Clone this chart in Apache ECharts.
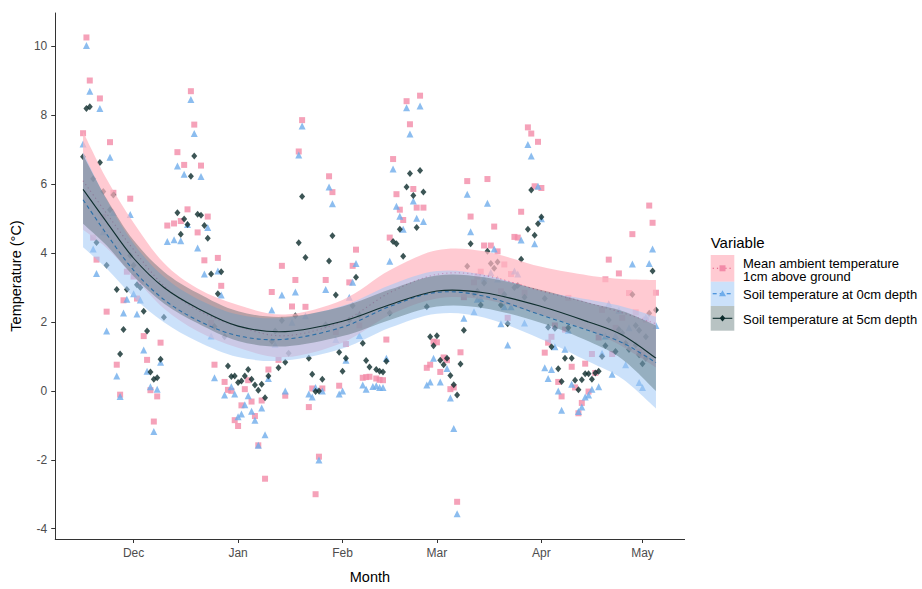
<!DOCTYPE html>
<html><head><meta charset="utf-8">
<script src="https://cdn.jsdelivr.net/npm/echarts@6/dist/echarts.min.js"></script>
<style>html,body{margin:0;padding:0;background:#fff}#chart{width:922px;height:589px}</style>
</head><body><div id="chart"></div>
<script>
// ---------- tick labels ----------
const monthTicks = ['2017-12-01','2018-01-01','2018-02-01','2018-03-01','2018-04-01','2018-05-01'];
const monthLabels = ['Dec','Jan','Feb','Mar','Apr','May'];
const yTicks = [-4,-2,0,2,4,6,8,10];

// ---------- observed points (date, °C) ----------
const ambient = [
['2017-11-16',7.48],['2017-11-17',10.26],['2017-11-18',9.01],['2017-11-19',4.45],['2017-11-20',3.81],['2017-11-21',8.49],['2017-11-22',5.05],['2017-11-23',2.30],['2017-11-24',7.22],['2017-11-25',5.75],['2017-11-26',0.76],['2017-11-27',-0.11],['2017-11-28',2.63],['2017-11-29',3.46],['2017-11-30',5.58],
['2017-12-01',3.32],['2017-12-02',2.68],['2017-12-03',3.15],['2017-12-04',1.59],['2017-12-05',0.90],['2017-12-06',0.02],['2017-12-07',-0.89],['2017-12-08',-0.16],['2017-12-09',1.40],['2017-12-11',4.80],['2017-12-13',4.86],['2017-12-14',6.93],['2017-12-15',4.93],['2017-12-16',6.56],['2017-12-17',5.27],['2017-12-18',8.70],['2017-12-19',7.73],['2017-12-20',4.60],['2017-12-21',6.54],['2017-12-22',3.79],['2017-12-23',5.06],['2017-12-24',1.97],['2017-12-25',0.76],['2017-12-26',3.86],['2017-12-27',3.05],['2017-12-28',0.26],['2017-12-29',0.03],['2017-12-30',0.00],['2017-12-31',-0.85],
['2018-01-01',-1.02],['2018-01-02',-0.42],['2018-01-03',0.05],['2018-01-04',0.31],['2018-01-05',-0.31],['2018-01-06',-0.73],['2018-01-07',-1.58],['2018-01-08',-0.28],['2018-01-09',-2.55],['2018-01-10',0.62],['2018-01-11',2.87],['2018-01-13',0.90],['2018-01-14',3.63],['2018-01-15',-0.14],['2018-01-17',2.45],['2018-01-18',3.22],['2018-01-19',6.95],['2018-01-20',7.86],['2018-01-21',2.44],['2018-01-22',-0.47],['2018-01-23',0.07],['2018-01-24',-3.00],['2018-01-25',-1.91],['2018-01-26',0.07],['2018-01-27',3.22],['2018-01-28',6.23],['2018-01-29',5.77],['2018-01-30',1.71],['2018-01-31',0.15],
['2018-02-02',1.36],['2018-02-03',3.15],['2018-02-04',3.63],['2018-02-05',4.10],['2018-02-06',1.90],['2018-02-07',0.38],['2018-02-08',0.40],['2018-02-09',0.41],['2018-02-11',0.36],['2018-02-12',0.32],['2018-02-13',0.31],['2018-02-14',1.49],['2018-02-15',4.45],['2018-02-16',6.73],['2018-02-17',5.71],['2018-02-18',5.26],['2018-02-19',4.96],['2018-02-20',8.41],['2018-02-21',7.74],['2018-02-22',5.86],['2018-02-23',5.32],['2018-02-24',8.57],['2018-02-25',5.32],['2018-02-26',0.67],['2018-02-27',0.76],['2018-02-28',1.43],
['2018-03-01',1.41],['2018-03-02',0.55],['2018-03-03',0.97],['2018-03-04',0.89],['2018-03-05',0.05],['2018-03-06',0.10],['2018-03-07',-3.22],['2018-03-08',1.12],['2018-03-09',2.72],['2018-03-10',6.09],['2018-03-11',5.06],['2018-03-12',3.15],['2018-03-13',3.32],['2018-03-14',3.46],['2018-03-15',4.22],['2018-03-16',6.15],['2018-03-17',4.22],['2018-03-18',4.77],['2018-03-19',4.05],['2018-03-20',2.89],['2018-03-21',3.67],['2018-03-22',2.12],['2018-03-23',3.39],['2018-03-24',4.47],['2018-03-25',4.45],['2018-03-26',5.20],['2018-03-27',2.85],['2018-03-28',7.65],['2018-03-29',7.47],['2018-03-30',5.94],['2018-03-31',7.23],
['2018-04-01',5.89],['2018-04-02',1.11],['2018-04-03',1.40],['2018-04-04',1.57],['2018-04-05',1.90],['2018-04-06',0.26],['2018-04-07',-0.16],['2018-04-08',1.78],['2018-04-09',2.70],['2018-04-10',0.70],['2018-04-11',0.10],['2018-04-12',-0.65],['2018-04-13',-0.35],['2018-04-14',0.79],['2018-04-15',-0.02],['2018-04-16',1.07],['2018-04-17',0.52],['2018-04-18',1.55],['2018-04-19',2.35],['2018-04-20',3.24],['2018-04-21',3.81],['2018-04-22',1.07],['2018-04-23',1.83],['2018-04-24',3.41],['2018-04-25',2.12],['2018-04-27',2.84],['2018-04-28',4.55],['2018-04-29',2.28],['2018-04-30',1.14],['2018-05-01',1.05],['2018-05-02',2.07],['2018-05-03',5.38],['2018-05-04',4.88],['2018-05-05',2.85]
];
const soil0 = [
['2017-11-16',7.17],['2017-11-17',10.03],['2017-11-18',8.70],['2017-11-19',4.12],['2017-11-20',3.41],['2017-11-21',8.20],['2017-11-22',4.62],['2017-11-23',1.74],['2017-11-24',6.78],['2017-11-25',5.18],['2017-11-26',0.43],['2017-11-27',-0.16],['2017-11-28',2.26],['2017-11-29',2.66],['2017-11-30',5.12],
['2017-12-01',2.82],['2017-12-02',2.23],['2017-12-03',2.64],['2017-12-04',1.19],['2017-12-05',0.57],['2017-12-06',0.12],['2017-12-07',-1.18],['2017-12-08',0.05],['2017-12-09',0.83],['2017-12-11',4.34],['2017-12-13',4.39],['2017-12-14',6.53],['2017-12-15',4.36],['2017-12-16',6.29],['2017-12-17',4.83],['2017-12-18',8.46],['2017-12-19',7.47],['2017-12-20',4.15],['2017-12-21',6.22],['2017-12-22',3.39],['2017-12-23',4.74],['2017-12-24',1.59],['2017-12-25',0.38],['2017-12-26',3.48],['2017-12-27',2.78],['2017-12-28',-0.12],['2017-12-30',0.12],['2017-12-31',-0.09],
['2018-01-01',-0.75],['2018-01-02',-0.67],['2018-01-03',-0.40],['2018-01-04',-0.14],['2018-01-05',-0.59],['2018-01-06',-0.85],['2018-01-07',-1.58],['2018-01-08',-0.50],['2018-01-09',-1.27],['2018-01-10',0.36],['2018-01-11',2.35],['2018-01-12',1.35],['2018-01-14',2.78],['2018-01-15',0.00],['2018-01-17',1.99],['2018-01-18',2.87],['2018-01-19',6.85],['2018-01-20',7.69],['2018-01-21',2.18],['2018-01-22',-0.09],['2018-01-23',-0.18],['2018-01-24',0.10],['2018-01-25',-2.01],['2018-01-26',0.00],['2018-01-27',2.94],['2018-01-28',5.92],['2018-01-29',5.43],['2018-01-30',1.49],['2018-01-31',-0.09],
['2018-02-01',0.00],['2018-02-02',0.89],['2018-02-03',2.72],['2018-02-04',3.15],['2018-02-05',3.70],['2018-02-06',1.61],['2018-02-07',0.17],['2018-02-08',0.05],['2018-02-10',0.13],['2018-02-11',0.15],['2018-02-12',0.10],['2018-02-13',0.10],['2018-02-14',0.95],['2018-02-15',3.76],['2018-02-16',6.44],['2018-02-17',5.36],['2018-02-18',5.07],['2018-02-19',4.69],['2018-02-20',8.22],['2018-02-21',7.46],['2018-02-22',5.51],['2018-02-23',5.01],['2018-02-24',8.27],['2018-02-25',4.92],['2018-02-26',0.17],['2018-02-27',0.26],['2018-02-28',0.95],
['2018-03-02',0.26],['2018-03-04',0.65],['2018-03-05',-0.21],['2018-03-06',-1.09],['2018-03-07',-3.57],['2018-03-09',2.11],['2018-03-10',5.71],['2018-03-11',4.62],['2018-03-12',2.30],['2018-03-13',2.66],['2018-03-14',2.68],['2018-03-15',3.27],['2018-03-16',5.45],['2018-03-17',3.44],['2018-03-18',4.12],['2018-03-19',3.25],['2018-03-20',1.95],['2018-03-21',2.44],['2018-03-22',1.33],['2018-03-23',2.44],['2018-03-24',3.48],['2018-03-25',3.39],['2018-03-26',4.38],['2018-03-27',1.97],['2018-03-28',7.15],['2018-03-29',6.82],['2018-03-30',4.27],['2018-03-31',5.94],
['2018-04-01',5.00],['2018-04-02',0.67],['2018-04-03',0.36],['2018-04-04',0.62],['2018-04-05',1.28],['2018-04-06',0.00],['2018-04-07',-0.56],['2018-04-08',1.21],['2018-04-09',1.76],['2018-04-10',0.19],['2018-04-12',-0.60],['2018-04-13',-0.47],['2018-04-14',-0.18],['2018-04-15',-0.12],['2018-04-16',0.05],['2018-04-18',0.12],['2018-04-19',1.09],['2018-04-20',1.59],['2018-04-21',2.53],['2018-04-22',0.48],['2018-04-23',1.61],['2018-04-24',2.34],['2018-04-26',0.76],['2018-04-27',1.83],['2018-04-28',3.68],['2018-04-30',0.24],['2018-05-01',0.10],['2018-05-02',2.14],['2018-05-03',3.70],['2018-05-04',4.12],['2018-05-05',1.90]
];
const soil5 = [
['2017-11-16',6.80],['2017-11-17',8.20],['2017-11-18',8.25],['2017-11-19',6.16],['2017-11-20',4.31],['2017-11-21',6.63],['2017-11-22',5.79],['2017-11-23',3.65],['2017-11-24',5.26],['2017-11-25',5.69],['2017-11-26',2.94],['2017-11-27',1.07],['2017-11-28',1.78],['2017-11-29',2.94],['2017-11-30',3.93],
['2017-12-01',3.65],['2017-12-02',3.08],['2017-12-03',3.00],['2017-12-04',2.31],['2017-12-05',1.74],['2017-12-06',0.55],['2017-12-07',0.34],['2017-12-08',0.38],['2017-12-09',0.92],['2017-12-10',2.14],['2017-12-14',5.17],['2017-12-15',4.55],['2017-12-16',4.99],['2017-12-17',4.83],['2017-12-18',6.23],['2017-12-19',6.82],['2017-12-20',5.13],['2017-12-21',5.10],['2017-12-22',4.80],['2017-12-23',4.43],['2017-12-24',3.39],['2017-12-25',1.87],['2017-12-26',2.82],['2017-12-27',3.46],['2017-12-28',1.57],['2017-12-29',0.72],['2017-12-30',0.42],['2017-12-31',0.43],
['2018-01-01',0.24],['2018-01-02',0.29],['2018-01-03',0.43],['2018-01-04',0.62],['2018-01-05',0.34],['2018-01-06',0.17],['2018-01-07',0.02],['2018-01-08',0.19],['2018-01-09',-0.20],['2018-01-10',0.43],['2018-01-11',1.44],['2018-01-12',1.74],['2018-01-13',0.67],['2018-01-14',2.04],['2018-01-15',0.83],['2018-01-16',1.09],['2018-01-18',2.18],['2018-01-19',4.30],['2018-01-20',5.64],['2018-01-21',3.87],['2018-01-22',0.95],['2018-01-23',0.48],['2018-01-24',-0.02],['2018-01-25',0.00],['2018-01-26',0.34],['2018-01-27',1.92],['2018-01-28',3.77],['2018-01-29',4.50],['2018-01-30',2.78],['2018-01-31',1.12],
['2018-02-01',0.57],['2018-02-02',0.95],['2018-02-03',2.06],['2018-02-04',2.47],['2018-02-05',3.30],['2018-02-06',2.20],['2018-02-07',1.38],['2018-02-08',0.88],['2018-02-09',0.69],['2018-02-11',0.62],['2018-02-12',0.57],['2018-02-13',0.55],['2018-02-14',0.86],['2018-02-15',2.26],['2018-02-16',4.34],['2018-02-17',4.27],['2018-02-18',4.69],['2018-02-19',3.91],['2018-02-20',5.92],['2018-02-21',6.31],['2018-02-22',5.67],['2018-02-23',4.74],['2018-02-24',6.40],['2018-02-25',5.77],['2018-02-26',2.44],['2018-02-27',1.57],['2018-02-28',1.31],
['2018-03-01',1.60],['2018-03-02',0.89],['2018-03-03',0.76],['2018-03-04',0.95],['2018-03-05',0.45],['2018-03-06',0.18],['2018-03-07',-0.12],['2018-03-08',0.78],['2018-03-09',1.76],['2018-03-10',3.62],['2018-03-11',4.27],['2018-03-12',2.82],['2018-03-13',2.89],['2018-03-14',2.49],['2018-03-15',3.13],['2018-03-16',4.05],['2018-03-17',3.70],['2018-03-18',3.56],['2018-03-19',3.74],['2018-03-20',2.49],['2018-03-21',2.80],['2018-03-22',1.95],['2018-03-24',3.00],['2018-03-25',3.06],['2018-03-26',3.82],['2018-03-27',2.72],['2018-03-28',4.69],['2018-03-29',5.83],['2018-03-30',4.52],['2018-03-31',4.85],
['2018-04-01',5.05],['2018-04-02',2.68],['2018-04-03',1.85],['2018-04-04',1.28],['2018-04-05',1.82],['2018-04-06',0.64],['2018-04-07',0.27],['2018-04-08',0.95],['2018-04-09',1.83],['2018-04-10',0.95],['2018-04-11',0.31],['2018-04-12',0.03],['2018-04-13',0.32],['2018-04-14',0.50],['2018-04-15',0.50],['2018-04-16',0.34],['2018-04-17',0.52],['2018-04-18',0.57],['2018-04-19',1.00],['2018-04-20',1.31],['2018-04-21',2.06],['2018-04-23',1.14],['2018-04-24',1.78],['2018-04-25',1.68],['2018-04-26',1.38],['2018-04-27',1.20],['2018-04-28',2.80],['2018-04-29',1.90],['2018-04-29',1.33],['2018-04-30',1.76],['2018-04-30',1.05],['2018-05-01',0.79],['2018-05-02',1.57],['2018-05-02',0.95],['2018-05-03',2.25],['2018-05-04',3.48],['2018-05-05',2.35]
];

// ---------- smoothed trends and their confidence bands ----------
const fitDates   = ['2017-11-16','2017-11-23','2017-12-01','2017-12-10','2017-12-20','2018-01-01','2018-01-15','2018-02-01','2018-02-15','2018-03-01','2018-03-15','2018-04-01','2018-04-15','2018-04-25','2018-05-05'];
const ambientFit  = [6.10, 5.15, 4.10, 3.05, 2.35, 1.87, 1.60, 2.02, 2.85, 3.38, 3.35, 2.90, 2.55, 2.27, 1.95];
const ambientHigh = [7.52, 6.15, 4.88, 3.71, 2.97, 2.49, 2.22, 2.64, 3.50, 4.08, 4.05, 3.60, 3.35, 3.25, 3.22];
const ambientLow  = [4.68, 4.15, 3.32, 2.39, 1.73, 1.25, 0.98, 1.40, 2.20, 2.68, 2.65, 2.20, 1.75, 1.29, 0.68];
const soil0Fit    = [5.55, 4.55, 3.50, 2.65, 2.05, 1.60, 1.50, 1.85, 2.45, 2.86, 2.75, 2.20, 1.75, 1.40, 0.82];
const soil0High   = [6.93, 5.55, 4.28, 3.31, 2.67, 2.22, 2.12, 2.47, 3.07, 3.48, 3.37, 2.90, 2.65, 2.45, 2.15];
const soil0Low    = [4.17, 3.55, 2.72, 1.99, 1.43, 0.98, 0.88, 1.23, 1.83, 2.24, 2.13, 1.50, 0.85, 0.35, -0.51];
const soil5Fit    = [5.85, 4.90, 3.85, 3.00, 2.40, 1.88, 1.72, 2.02, 2.50, 2.90, 2.85, 2.45, 2.00, 1.62, 0.95];
const soil5High   = [6.85, 5.58, 4.37, 3.46, 2.84, 2.31, 2.15, 2.45, 2.94, 3.35, 3.30, 2.93, 2.56, 2.32, 1.90];
const soil5Low    = [4.85, 4.22, 3.33, 2.54, 1.96, 1.45, 1.29, 1.59, 2.06, 2.45, 2.40, 1.97, 1.44, 0.92, 0.00];

// ---------- helpers ----------
function toTs(s){ const p = s.split('-'); return Date.UTC(+p[0], +p[1]-1, +p[2]); }
const HOUR = 3600*1000;
const xMin = toTs('2017-11-07') + 18*HOUR;
const xMax = toTs('2018-05-13') + 12*HOUR;
const tickTs = monthTicks.map(toTs);
const fitTs = fitDates.map(toTs);
const pts = arr => arr.map(d => [toTs(d[0]), d[1]]);

const FONT = 'Liberation Sans, Arial, Helvetica, sans-serif';
const C = {
  ambPt: '#F38BA8', s0Pt: '#6FADEB', s5Pt: '#0B2B2B',
  ambLine: '#E0507E', s0Line: '#2A7FD4', s5Line: '#0E2E2E',
  ambBand: 'rgba(255,182,193,0.72)', s0Band: 'rgba(160,200,245,0.55)', s5Band: 'rgba(47,79,79,0.34)'
};

// cubic (Catmull-Rom) path through pixel points, used only for drawing
function curveSegs(p){
  let s = '';
  for (let i = 0; i < p.length - 1; i++){
    const p0 = p[Math.max(i-1,0)], p1 = p[i], p2 = p[i+1], p3 = p[Math.min(i+2,p.length-1)];
    const c1x = p1[0] + (p2[0]-p0[0])/6, c1y = p1[1] + (p2[1]-p0[1])/6;
    const c2x = p2[0] - (p3[0]-p1[0])/6, c2y = p2[1] - (p3[1]-p1[1])/6;
    s += ' C' + c1x.toFixed(2)+' '+c1y.toFixed(2)+' '+c2x.toFixed(2)+' '+c2y.toFixed(2)+' '+p2[0].toFixed(2)+' '+p2[1].toFixed(2);
  }
  return s;
}
function bandSeries(name, lo, hi, color, z){
  return {
    type:'custom', name:name, coordinateSystem:'cartesian2d', z:z, silent:true, clip:true,
    data: fitTs.map((t,i)=>[t, lo[i], hi[i]]), encode:{x:0, y:[1,2]},
    renderItem: (params, api) => {
      if (params.dataIndex !== 0) return null;
      const up = fitTs.map((t,i)=>api.coord([t, hi[i]]));
      const dn = fitTs.map((t,i)=>api.coord([t, lo[i]])).reverse();
      const d = 'M' + up[0][0].toFixed(2)+' '+up[0][1].toFixed(2) + curveSegs(up) +
                ' L' + dn[0][0].toFixed(2)+' '+dn[0][1].toFixed(2) + curveSegs(dn) + ' Z';
      return {type:'path', shape:{pathData:d}, style:{fill:color, stroke:null}};
    }
  };
}
function fitSeries(name, fit, color, dash, z){
  return {
    type:'custom', name:name, coordinateSystem:'cartesian2d', z:z, silent:true, clip:true,
    data: fitTs.map((t,i)=>[t, fit[i]]), encode:{x:0, y:1},
    renderItem: (params, api) => {
      if (params.dataIndex !== 0) return null;
      const p = fitTs.map((t,i)=>api.coord([t, fit[i]]));
      const d = 'M' + p[0][0].toFixed(2)+' '+p[0][1].toFixed(2) + curveSegs(p);
      return {type:'path', shape:{pathData:d}, style:{fill:null, stroke:color, lineWidth:1.1, lineDash:dash}};
    }
  };
}

const chart = echarts.init(document.getElementById('chart'), null, {renderer:'svg'});

// legend (drawn as graphic elements)
const lx = 710.7, lw = 23.6;
const rows = [
  {y:255, h:26.7, bg:C.ambBand},
  {y:281.7, h:24.3, bg:C.s0Band},
  {y:306, h:24.7, bg:C.s5Band}
];
const cx = lx + lw/2;
const legendGraphics = [
  {type:'text', x:lx, y:242, style:{text:'Variable', font:'15px '+FONT, fill:'#000', verticalAlign:'middle'}},
  ...rows.map(r => ({type:'rect', shape:{x:lx, y:r.y, width:lw, height:r.h}, style:{fill:r.bg}})),
  {type:'line', shape:{x1:lx+2, y1:268.3, x2:lx+lw-2, y2:268.3}, style:{stroke:C.ambLine, lineWidth:1.1, lineDash:[1.2,3]}},
  {type:'line', shape:{x1:lx+2, y1:293.8, x2:lx+lw-2, y2:293.8}, style:{stroke:C.s0Line, lineWidth:1.1, lineDash:[4,3]}},
  {type:'line', shape:{x1:lx+2, y1:318.3, x2:lx+lw-2, y2:318.3}, style:{stroke:C.s5Line, lineWidth:1.1}},
  {type:'rect', shape:{x:cx-3, y:268.3-3, width:6, height:6}, style:{fill:C.ambPt}},
  {type:'polygon', shape:{points:[[cx, 293.8-3.5],[cx+3.5, 293.8+2.5],[cx-3.5, 293.8+2.5]]}, style:{fill:C.s0Pt}},
  {type:'polygon', shape:{points:[[cx, 318.3-3.3],[cx+2.8, 318.3],[cx, 318.3+3.3],[cx-2.8, 318.3]]}, style:{fill:C.s5Pt}},
  {type:'text', x:743, y:263, style:{text:'Mean ambient temperature', font:'13px '+FONT, fill:'#000', verticalAlign:'middle'}},
  {type:'text', x:743, y:276.5, style:{text:'1cm above ground', font:'13px '+FONT, fill:'#000', verticalAlign:'middle'}},
  {type:'text', x:743, y:294.5, style:{text:'Soil temperature at 0cm depth', font:'13px '+FONT, fill:'#000', verticalAlign:'middle'}},
  {type:'text', x:743, y:319, style:{text:'Soil temperature at 5cm depth', font:'13px '+FONT, fill:'#000', verticalAlign:'middle'}}
];

const option = {
  animation:false,
  backgroundColor:'#fff',
  grid:{left:54, right:237.4, top:13, bottom:39, containLabel:false},
  xAxis:{
    type:'value', min:xMin, max:xMax, scale:true,
    name:'Month', nameLocation:'middle', nameGap:30,
    nameTextStyle:{color:'#000', fontSize:14.5, fontFamily:FONT},
    axisLine:{show:true, onZero:false, lineStyle:{color:'#333', width:1}},
    axisTick:{show:true, length:4, lineStyle:{color:'#333'}, customValues:tickTs},
    axisLabel:{color:'#4D4D4D', fontSize:12, fontFamily:FONT, margin:8, customValues:tickTs,
      formatter: v => { const i = tickTs.indexOf(v); return i >= 0 ? monthLabels[i] : ''; }},
    splitLine:{show:false}, minorTick:{show:false}
  },
  yAxis:{
    type:'value', min:-4.3, max:10.97,
    name:'Temperature (°C)', nameLocation:'middle', nameGap:28,
    nameTextStyle:{color:'#000', fontSize:14.5, fontFamily:FONT},
    axisLine:{show:true, onZero:false, lineStyle:{color:'#333', width:1}},
    axisTick:{show:true, length:4, lineStyle:{color:'#333'}, customValues:yTicks},
    axisLabel:{color:'#4D4D4D', fontSize:12, fontFamily:FONT, margin:8, customValues:yTicks},
    splitLine:{show:false}
  },
  graphic: legendGraphics,
  series:[
    {type:'scatter', name:'Mean ambient temperature 1cm above ground', symbol:'rect', symbolSize:6, z:2, silent:true,
     itemStyle:{color:C.ambPt}, data:pts(ambient)},
    {type:'scatter', name:'Soil temperature at 0cm depth', symbol:'triangle', symbolSize:7, z:2, silent:true,
     itemStyle:{color:C.s0Pt}, data:pts(soil0)},
    {type:'scatter', name:'Soil temperature at 5cm depth', symbol:'diamond', symbolSize:[6,7], z:2, silent:true,
     itemStyle:{color:C.s5Pt}, data:pts(soil5)},
    bandSeries('ambient band', ambientLow, ambientHigh, C.ambBand, 3),
    fitSeries('ambient fit', ambientFit, C.ambLine, [1.2,3], 4),
    bandSeries('soil 0cm band', soil0Low, soil0High, C.s0Band, 5),
    fitSeries('soil 0cm fit', soil0Fit, C.s0Line, [4,3], 6),
    bandSeries('soil 5cm band', soil5Low, soil5High, C.s5Band, 7),
    fitSeries('soil 5cm fit', soil5Fit, C.s5Line, null, 8)
  ]
};
chart.setOption(option);
</script>
</body></html>
